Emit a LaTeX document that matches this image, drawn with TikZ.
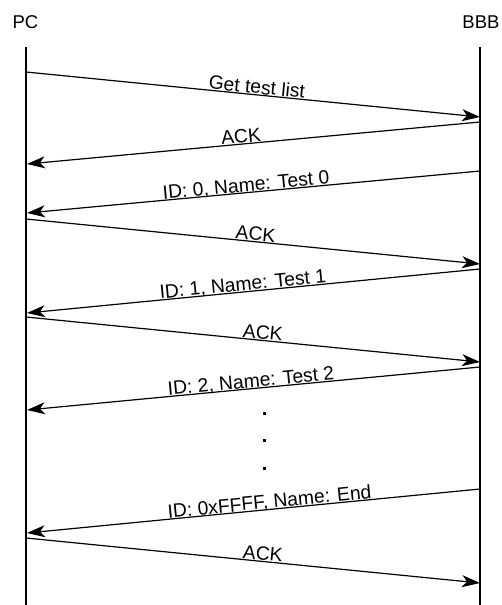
\documentclass[tikz,border=0pt]{standalone}
\usepackage{fontspec}
\setmainfont{Liberation Sans}
\usetikzlibrary{arrows.meta}
\begin{document}
\begin{tikzpicture}[x=1pt,y=-1pt,
  lifeline/.style={line width=1.6pt},
  msg/.style={line width=1.2pt,-{Stealth[length=18pt,width=12pt,inset=5pt]}},
  msglabel/.style={sloped,anchor=base,inner sep=0pt,yshift=1.2pt,font=\fontsize{19.3}{23}\selectfont},
  actor/.style={anchor=base,inner sep=0pt,font=\fontsize{18.5}{22}\selectfont},
  ellipsisdot/.style={fill=black,draw=none}
]
\useasboundingbox (0,0) rectangle (502,605);

% participants
\node[actor] (pc)  at (25.5,28) {PC};
\node[actor] (bbb) at (481,28) {BBB};

% lifelines
\coordinate (pcTop) at (26,47);   \coordinate (pcBot) at (26,606);
\coordinate (bbTop) at (480,47);  \coordinate (bbBot) at (480,606);
\draw[lifeline] (pcTop) -- (pcBot);
\draw[lifeline] (bbTop) -- (bbBot);

% message end points on the lifelines
\coordinate (a1) at (26,72);   \coordinate (b1) at (480,117);
\coordinate (b2) at (480,122); \coordinate (a2) at (27,164);
\coordinate (b3) at (480,171); \coordinate (a3) at (27,213);
\coordinate (a4) at (26,219);  \coordinate (b4) at (480,264);
\coordinate (b5) at (480,269); \coordinate (a5) at (27,313);
\coordinate (a6) at (26,317);  \coordinate (b6) at (480,362);
\coordinate (b7) at (480,367); \coordinate (a7) at (27,410);
\coordinate (b8) at (480,489); \coordinate (a8) at (27,533);
\coordinate (a9) at (26,538);  \coordinate (b9) at (480,583);

% messages
\draw[msg] (a1) -- node[msglabel,pos=0.507] {Get test list} (b1);
\draw[msg] (b2) -- node[msglabel,pos=0.526] {ACK} (a2);
\draw[msg] (b3) -- node[msglabel,pos=0.515] {ID: 0, Name: Test 0} (a3);
\draw[msg] (a4) -- node[msglabel,pos=0.504] {ACK} (b4);
\draw[msg] (b5) -- node[msglabel,pos=0.522] {ID: 1, Name: Test 1} (a5);
\draw[msg] (a6) -- node[msglabel,pos=0.52] {ACK} (b6);
\draw[msg] (b7) -- node[msglabel,pos=0.504] {ID: 2, Name: Test 2} (a7);
\draw[msg] (b8) -- node[msglabel,pos=0.463] {ID: 0xFFFF, Name: End} (a8);
\draw[msg] (a9) -- node[msglabel,pos=0.52] {ACK} (b9);

% vertical ellipsis
\foreach \yy in {412,439,467}
  \fill[ellipsisdot] (263,\yy) rectangle (265.5,\yy+2.5);
\end{tikzpicture}
\end{document}
